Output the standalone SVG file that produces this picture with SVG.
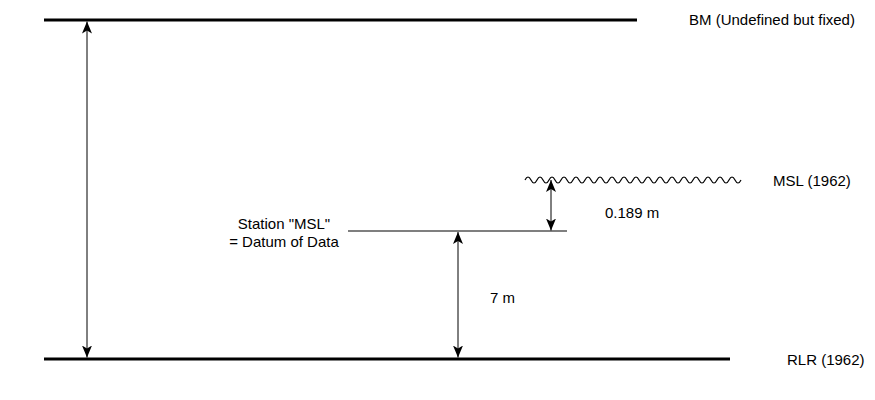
<svg xmlns="http://www.w3.org/2000/svg" width="875" height="400" viewBox="0 0 875 400">
<style>
.lbl{font-family:"Liberation Sans",Arial,sans-serif;font-size:15px;fill:#000}
.thick{stroke:#000;stroke-width:3;fill:none}
.thin{stroke:#000;stroke-width:1.2;fill:none}
.arr{stroke:#000;stroke-width:1;fill:none;marker-start:url(#ah);marker-end:url(#ah)}
</style>
<defs>
<marker id="ah" viewBox="0 0 12 10" refX="12" refY="5" markerWidth="12" markerHeight="10" markerUnits="userSpaceOnUse" orient="auto-start-reverse">
<path d="M0,0 L12,5 L0,10 L3,5 Z" fill="#000"/>
</marker>
</defs>
<rect width="875" height="400" fill="#fff"/>
<g id="bm">
<line class="thick" x1="44" y1="20" x2="637" y2="20"/>
<text class="lbl" x="689" y="25">BM (Undefined but fixed)</text>
</g>
<g id="rlr">
<line class="thick" x1="44" y1="359" x2="730" y2="359"/>
<text class="lbl" x="787" y="365">RLR (1962)</text>
</g>
<g id="msl1962">
<path class="thin" stroke="#333" d="M525,180 q3,-6 6,0 t6,0 t6,0 t6,0 t6,0 t6,0 t6,0 t6,0 t6,0 t6,0 t6,0 t6,0 t6,0 t6,0 t6,0 t6,0 t6,0 t6,0 t6,0 t6,0 t6,0 t6,0 t6,0 t6,0 t6,0 t6,0 t6,0 t6,0 t6,0 t6,0 t6,0 t6,0 t6,0 t6,0 t6,0 t6,0"/>
<text class="lbl" x="773" y="186">MSL (1962)</text>
</g>
<g id="station">
<line class="thin" x1="348" y1="231" x2="567" y2="231"/>
<text class="lbl" x="284" y="229" text-anchor="middle">Station "MSL"</text>
<text class="lbl" x="284" y="247" text-anchor="middle">= Datum of Data</text>
</g>
<g id="connectors">
<line class="arr" x1="87" y1="21.5" x2="87" y2="357.5"/>
<line class="arr" x1="458" y1="232" x2="458" y2="357.5"/>
<line class="arr" x1="551" y1="180" x2="551" y2="230.5"/>
<text class="lbl" x="605" y="218">0.189 m</text>
<text class="lbl" x="490" y="303">7 m</text>
</g>
</svg>
